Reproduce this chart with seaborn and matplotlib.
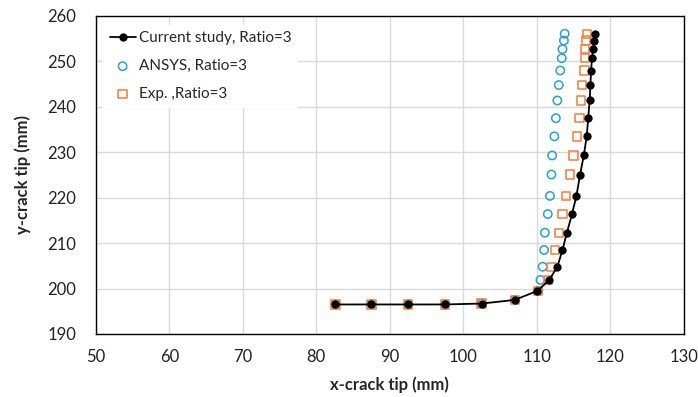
import matplotlib
matplotlib.use("Agg")
import matplotlib.pyplot as plt
import seaborn as sns
import pandas as pd

# Crack-tip trajectories (mm)
current_x = [82.6, 87.5, 92.5, 97.5, 102.5, 107.0, 110.1, 111.7, 112.8, 113.5, 114.1, 114.8,
             115.4, 115.9, 116.4, 116.8, 117.0, 117.2, 117.3, 117.4, 117.5, 117.7, 117.8, 117.9]
current_y = [196.5, 196.5, 196.5, 196.5, 196.7, 197.5, 199.5, 201.9, 204.8, 208.5, 212.3, 216.4,
             220.4, 225.1, 229.3, 233.5, 237.5, 241.4, 244.8, 248.0, 250.7, 252.7, 254.6, 256.1]

ansys_x = [82.6, 87.5, 92.5, 97.5, 102.5, 107.0, 110.2, 110.5, 110.8, 111.0, 111.1, 111.5,
           111.8, 112.0, 112.1, 112.4, 112.6, 112.8, 113.0, 113.2, 113.4, 113.5, 113.7, 113.8]
ansys_y = current_y

exp_x = [82.6, 87.5, 92.5, 97.5, 102.5, 107.0, 110.2, 111.5, 112.0, 112.5, 113.0, 113.5,
         114.0, 114.5, 115.0, 115.5, 115.8, 116.0, 116.2, 116.5, 116.6, 116.6, 116.7, 116.8]
exp_y = current_y

x_ticks = [50, 60, 70, 80, 90, 100, 110, 120, 130]
y_ticks = [190, 200, 210, 220, 230, 240, 250, 260]

sns.set_theme(style="white")
plt.rcParams["font.family"] = ["Lato", "DejaVu Sans"]

fig = plt.figure(figsize=(6.98, 3.97), dpi=100)
ax = fig.add_axes([0.1375, 0.1587, 0.842, 0.801])

ansys = pd.DataFrame({"x": ansys_x, "y": ansys_y})
exp = pd.DataFrame({"x": exp_x, "y": exp_y})
cur = pd.DataFrame({"x": current_x, "y": current_y})

sns.scatterplot(data=ansys, x="x", y="y", ax=ax, marker="o", s=36,
                facecolors="none", edgecolor="#2a9ddb", linewidth=1.1, zorder=3,
                label="ANSYS, Ratio=3")
sns.scatterplot(data=exp, x="x", y="y", ax=ax, marker="s", s=36,
                facecolors="none", edgecolor="#f07f3c", linewidth=1.1, zorder=4,
                label="Exp. ,Ratio=3")
sns.lineplot(data=cur, x="x", y="y", ax=ax, sort=False, estimator=None,
             color="black", linewidth=1.3, marker="o", markersize=5.2,
             markeredgecolor="black", zorder=5, label="Current study, Ratio=3")

ax.set_xlim(50, 130)
ax.set_ylim(190, 260)
ax.set_xticks(x_ticks)
ax.set_yticks(y_ticks)
ax.tick_params(axis="both", labelsize=12, length=0, colors="#222222")
ax.tick_params(axis="x", pad=11)
ax.tick_params(axis="y", pad=14)
ax.grid(True, color="#d9d9d9", linewidth=1.0)
ax.set_axisbelow(True)
for sp in ax.spines.values():
    sp.set_color("black")
    sp.set_linewidth(1.0)

ax.set_xlabel("x-crack tip (mm)", fontsize=12, fontweight="bold", labelpad=8)
ax.set_ylabel("y-crack tip (mm)", fontsize=12, fontweight="bold", labelpad=12)

handles, labels = ax.get_legend_handles_labels()
order = [labels.index("Current study, Ratio=3"), labels.index("ANSYS, Ratio=3"),
         labels.index("Exp. ,Ratio=3")]
leg = ax.legend([handles[i] for i in order], [labels[i] for i in order],
                loc="upper left", bbox_to_anchor=(0.005, 0.985), frameon=True,
                fontsize=11, handlelength=1.7, handletextpad=0.2,
                labelspacing=0.9, borderaxespad=0.3)
leg.get_frame().set_edgecolor("white")
leg.get_frame().set_facecolor("white")
leg.get_frame().set_alpha(1.0)
leg.get_frame().set_boxstyle("square", pad=0.0)

fig.savefig("out.png", dpi=100)
